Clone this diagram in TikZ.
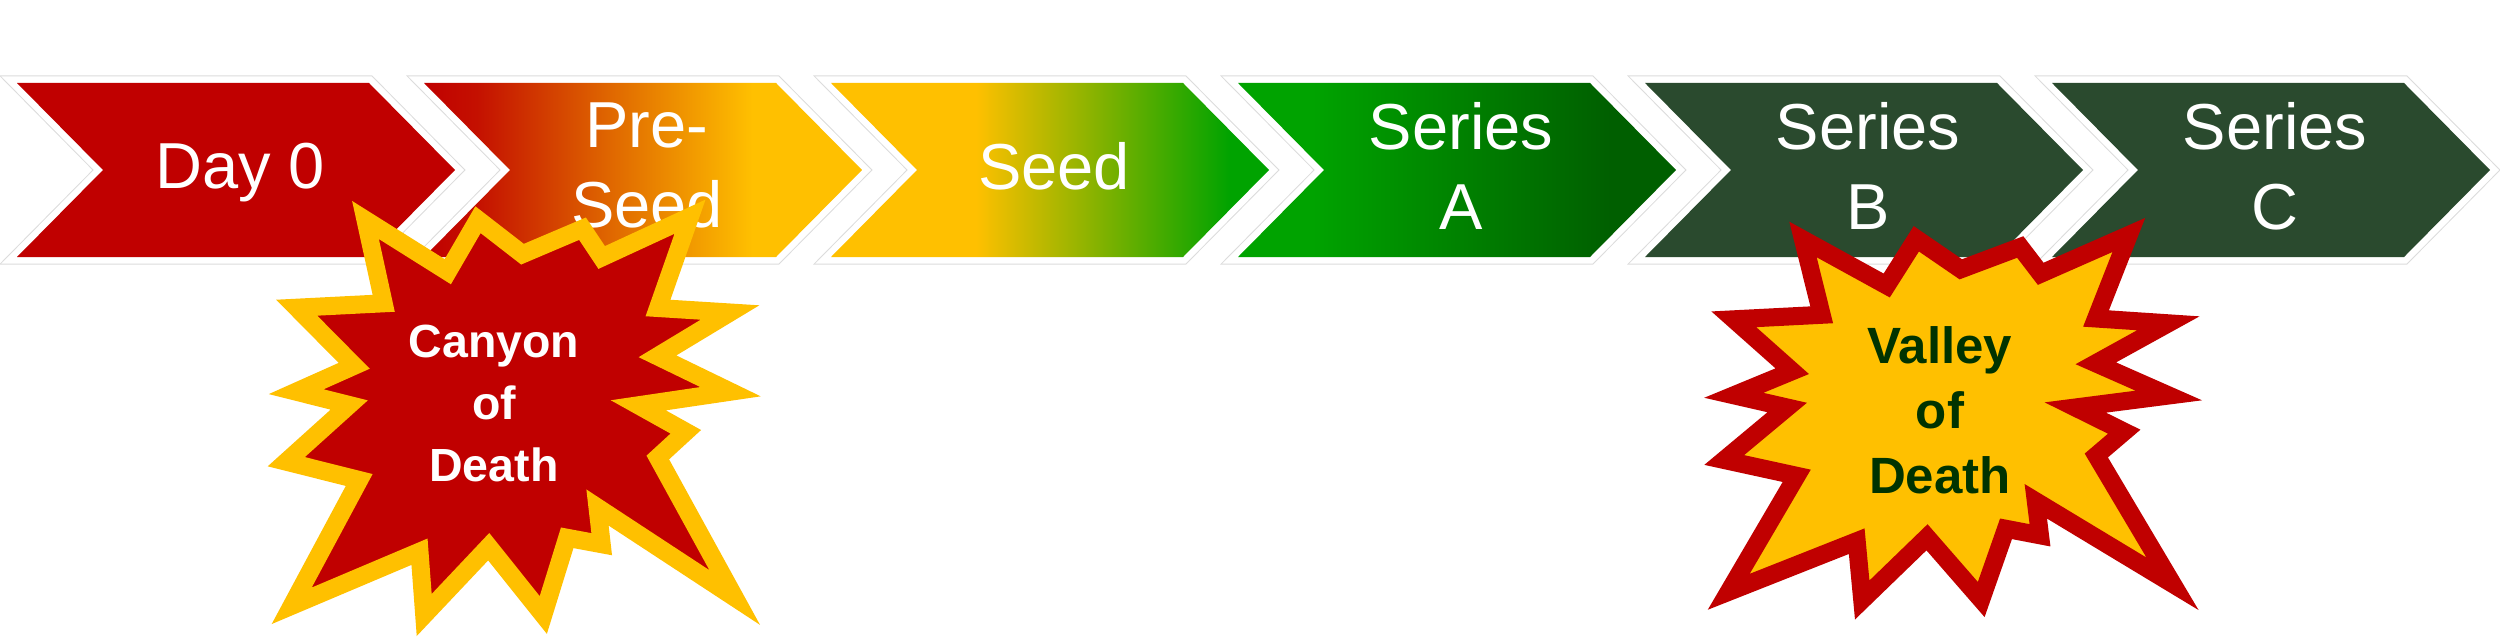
\documentclass[tikz,border=0pt]{standalone}
\usepackage{fontspec}
\setmainfont{Liberation Sans}
\definecolor{dayred}{HTML}{C00000}
\definecolor{gold}{HTML}{FFC000}
\definecolor{ember}{HTML}{C41000}
\definecolor{orng}{HTML}{DD6000}
\definecolor{leaf}{HTML}{00A300}
\definecolor{forest}{HTML}{005F00}
\definecolor{pine}{HTML}{2A4A2E}
\definecolor{deepgreen}{HTML}{003300}
\definecolor{edgegray}{HTML}{DCDCDC}
\pgfdeclarehorizontalshading{dayshade}{100bp}{color(0bp)=(dayred); color(100bp)=(dayred)}
\pgfdeclarehorizontalshading{preseedshade}{100bp}{color(0bp)=(dayred); color(25bp)=(dayred); color(31bp)=(ember); color(45bp)=(orng); color(62.5bp)=(gold); color(100bp)=(gold)}
\pgfdeclarehorizontalshading{seedshade}{100bp}{color(0bp)=(gold); color(41.5bp)=(gold); color(70.5bp)=(leaf); color(100bp)=(leaf)}
\pgfdeclarehorizontalshading{serashade}{100bp}{color(0bp)=(leaf); color(33.5bp)=(leaf); color(67.5bp)=(forest); color(100bp)=(forest)}
\pgfdeclarehorizontalshading{latershade}{100bp}{color(0bp)=(pine); color(100bp)=(pine)}
% one chevron, left edge at #1 (px units)
\newcommand\chevronpath[1]{(#1,83) -- ++(352,0) -- ++(86,87) -- ++(-86,87) -- ++(-352,0) -- ++(86,-87) -- cycle}
\tikzset{
  chevedge/.style={draw=edgegray, line width=6pt, miter limit=4},
  chevwhite/.style={draw=white, line width=5.2pt, miter limit=4},
  stagelabel/.style={text=white, font=\fontsize{26}{32}\selectfont, align=center, text depth=0pt, inner sep=0pt},
  burst/.style={line width=7.2pt, line join=miter, miter limit=5},
  canyonburst/.style={burst, fill=dayred, draw=gold},
  valleyburst/.style={burst, fill=gold, draw=dayred},
  burstlabel/.style={font=\bfseries, align=center, text depth=0pt, inner sep=0pt},
}

\begin{document}
\begin{tikzpicture}[x=0.4pt, y=-0.4pt]
\fill[white] (0,0) rectangle (2500,639);
\useasboundingbox (0,0) rectangle (2500,639);
% funding stages
\foreach \x/\shd in {17/dayshade, 424/preseedshade, 831/seedshade, 1238/serashade, 1645/latershade, 2052/latershade}{
  \path[chevedge] \chevronpath{\x};
  \path[chevwhite] \chevronpath{\x};
  \path[shade, shading=\shd] \chevronpath{\x};
}
\foreach \x/\nm/\txt in {240/dayzero/Day 0, 647/preseed/Pre-\\Seed, 1054/seed/Seed, 1461/seriesa/Series\\A, 1868/seriesb/Series\\B, 2275/seriesc/Series\\C}
  \node[stagelabel] (\nm) at (\x,165.5) {\txt};
% canyon of death
\draw[canyonburst] (365.5,220) -- (447.8,271.7) -- (478,219.7) -- (522.5,254.2) -- (582.5,228.7) -- (601.7,257.5) -- (690,216.7) -- (658,308) -- (730,312.5) -- (657.5,356.3) -- (730.5,391.7) -- (638.3,405.3) -- (685.8,431.8) -- (657.8,457.5) -- (734.7,597.5) -- (597.5,507.5) -- (601.7,544.2) -- (567.2,537.8) -- (543.3,615) -- (488.7,546.7) -- (424.2,615) -- (419.5,551.7) -- (291.7,605.8) -- (359.2,480) -- (286.3,461.7) -- (349.2,405) -- (296.2,391.7) -- (354.2,365.8) -- (296.7,307.7) -- (383.7,303.3) -- cycle;
\node[burstlabel, text=white, font=\bfseries\fontsize{18.6}{24.8}\selectfont] (canyon) at (494,403) {Canyon\\of\\Death};
% valley of death
\draw[valleyburst] (1803,239.5) -- (1886.7,285.5) -- (1916.3,238.8) -- (1960.8,269.3) -- (2020.2,247) -- (2040.7,273.8) -- (2128.8,235) -- (2096,318.5) -- (2168.3,323.3) -- (2095.8,363.3) -- (2168.8,395.5) -- (2075.3,407.5) -- (2124.2,431.7) -- (2096.3,455.5) -- (2172.5,583.8) -- (2035.8,501.3) -- (2040,535.3) -- (2006,528.8) -- (1981.2,599.5) -- (1927,537.3) -- (1862.2,600) -- (1856.7,541.2) -- (1728.7,591.8) -- (1796.7,475.8) -- (1724.2,460) -- (1787.2,407.5) -- (1733.8,395.3) -- (1792.2,371.2) -- (1733.8,319.3) -- (1821.7,314.8) -- cycle;
\node[burstlabel, text=deepgreen, font=\bfseries\fontsize{20.4}{26}\selectfont] (valley) at (1940,410) {Valley\\of\\Death};
\end{tikzpicture}
\end{document}
